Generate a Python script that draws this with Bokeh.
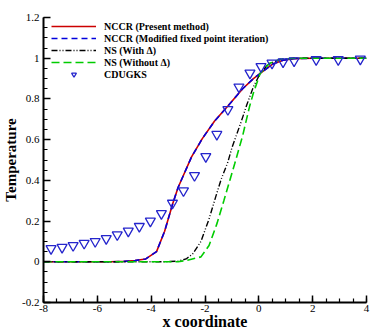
from bokeh.plotting import figure
from bokeh.models import (Legend, LegendItem, FixedTicker,
                          NumeralTickFormatter, Range1d)
from bokeh.embed import file_html
from bokeh.resources import INLINE

# ---- data ----
nccr_x = [-8, -5.5, -5.0, -4.6, -4.2, -3.8, -3.5, -3.2, -3.0, -2.8, -2.5, -2.1,
          -1.65, -1.15, -0.6, -0.2, 0.1, 0.5, 0.9, 1.3, 2.0, 4.0]
nccr_y = [0, 0, 0.002, 0.006, 0.014, 0.05, 0.15, 0.285, 0.365, 0.425, 0.515, 0.605,
          0.69, 0.765, 0.85, 0.9, 0.93, 0.97, 0.99, 0.998, 1.0, 1.0]

nccr_mod_x = [-8, -5.5, -5.0, -4.6, -4.2, -3.8, -3.5, -3.2, -3.0, -2.8, -2.5, -2.1,
              -1.65, -1.15, -0.6, -0.2, 0.1, 0.5, 0.9, 1.3, 2.0, 4.0]
nccr_mod_y = [0, 0, 0.002, 0.006, 0.014, 0.05, 0.15, 0.285, 0.365, 0.425, 0.515, 0.605,
              0.69, 0.765, 0.85, 0.9, 0.93, 0.97, 0.99, 0.998, 1.0, 1.0]

ns_delta_x = [-8, -3.5, -3.0, -2.7, -2.45, -2.15, -1.85, -1.6, -1.4, -1.15, -1.0,
              -0.65, -0.45, -0.2, 0.05, 0.35, 0.8, 1.3, 4.0]
ns_delta_y = [0, 0, 0.003, 0.014, 0.04, 0.1, 0.21, 0.32, 0.405, 0.49, 0.56,
              0.69, 0.77, 0.86, 0.925, 0.97, 0.995, 1.0, 1.0]

ns_nodelta_x = [-8, -3.0, -2.65, -2.15, -1.85, -1.55, -1.3, -1.1, -0.9, -0.6,
                -0.35, -0.2, 0.05, 0.4, 0.8, 1.3, 4.0]
ns_nodelta_y = [0, 0, 0.008, 0.024, 0.08, 0.19, 0.3, 0.39, 0.48, 0.62,
                0.76, 0.83, 0.925, 0.975, 0.995, 1.0, 1.0]

cdugks_x = [-7.72, -7.31, -6.9, -6.49, -6.08, -5.67, -5.26, -4.85, -4.44, -4.03,
            -3.62, -3.21, -2.80, -2.39, -1.97, -1.56, -1.15, -0.74, -0.33, 0.08,
            0.49, 0.90, 1.31, 2.13, 2.95, 3.77]
cdugks_y = [0.065, 0.071, 0.080, 0.091, 0.10, 0.114, 0.133, 0.151, 0.174, 0.2,
            0.237, 0.288, 0.349, 0.424, 0.517, 0.626, 0.748, 0.859, 0.927, 0.959,
            0.976, 0.982, 0.987, 0.993, 0.993, 0.996]

x_major = [-8, -6, -4, -2, 0, 2, 4]
x_minor = [-8 + 0.5 * i for i in range(25)]
y_major = [-0.2, 0, 0.2, 0.4, 0.6, 0.8, 1, 1.2]
y_minor = [round(-0.2 + 0.05 * i, 2) for i in range(29)]

labels = ["NCCR (Present method)", "NCCR (Modified fixed point iteration)",
          "NS (With \u0394)", "NS (Without \u0394)", "CDUGKS"]

SERIF = "Liberation Serif"

p = figure(width=374, height=332, output_backend="svg", toolbar_location=None,
           x_range=Range1d(-8, 4), y_range=Range1d(-0.2, 1.2),
           min_border_left=41, min_border_right=8, min_border_top=17,
           min_border_bottom=26)
p.outline_line_color = None
p.xgrid.visible = False
p.ygrid.visible = False
p.background_fill_color = "white"

r1 = p.line(nccr_x, nccr_y, line_color="#cc0000", line_width=1.6)
r2 = p.line(nccr_mod_x, nccr_mod_y, line_color="#0000dd", line_width=1.6,
            line_dash="6 4")
r3 = p.line(ns_delta_x, ns_delta_y, line_color="black", line_width=1.4,
            line_dash="6 2 1 2 1 2")
r4 = p.line(ns_nodelta_x, ns_nodelta_y, line_color="#00cc00", line_width=1.6,
            line_dash="8 4")
r5 = p.scatter(cdugks_x, cdugks_y, marker="inverted_triangle", size=10,
               line_color="#2525cc", fill_color=None, line_width=1.3)

for ax, maj, mino in ((p.xaxis[0], x_major, x_minor), (p.yaxis[0], y_major, y_minor)):
    ax.ticker = FixedTicker(ticks=maj, minor_ticks=mino)
    ax.formatter = NumeralTickFormatter(format="0.[0]")
    ax.axis_line_width = 2
    ax.axis_line_color = "black"
    ax.major_tick_in = 7
    ax.major_tick_out = 0
    ax.minor_tick_in = 4
    ax.minor_tick_out = 0
    ax.major_tick_line_width = 1.5
    ax.minor_tick_line_width = 1.2
    ax.major_label_text_font = SERIF
    ax.major_label_text_font_size = "11px"
    ax.major_label_text_color = "black"
    ax.axis_label_text_font = SERIF
    ax.axis_label_text_font_style = "bold"
    ax.axis_label_text_color = "black"

p.xaxis.axis_label = "x coordinate"
p.xaxis.axis_label_text_font_size = "16px"
p.xaxis.major_label_standoff = 2
p.xaxis.axis_label_standoff = -2
p.yaxis.axis_label = "Temperature"
p.yaxis.axis_label_text_font_size = "15px"
p.yaxis.major_label_standoff = 4
p.yaxis.axis_label_standoff = 0

legend = Legend(items=[LegendItem(label=l, renderers=[r]) for l, r in
                       zip(labels, [r1, r2, r3, r4, r5])],
                location=(8, 222), orientation="vertical",
                label_text_font=SERIF, label_text_font_style="bold",
                label_text_font_size="10px", label_text_color="black",
                glyph_width=45, glyph_height=12, label_height=12,
                label_standoff=8, spacing=0, padding=0, margin=0,
                border_line_color=None, background_fill_alpha=0)
p.add_layout(legend, "center")

open("out.html", "w").write(file_html(p, INLINE))
